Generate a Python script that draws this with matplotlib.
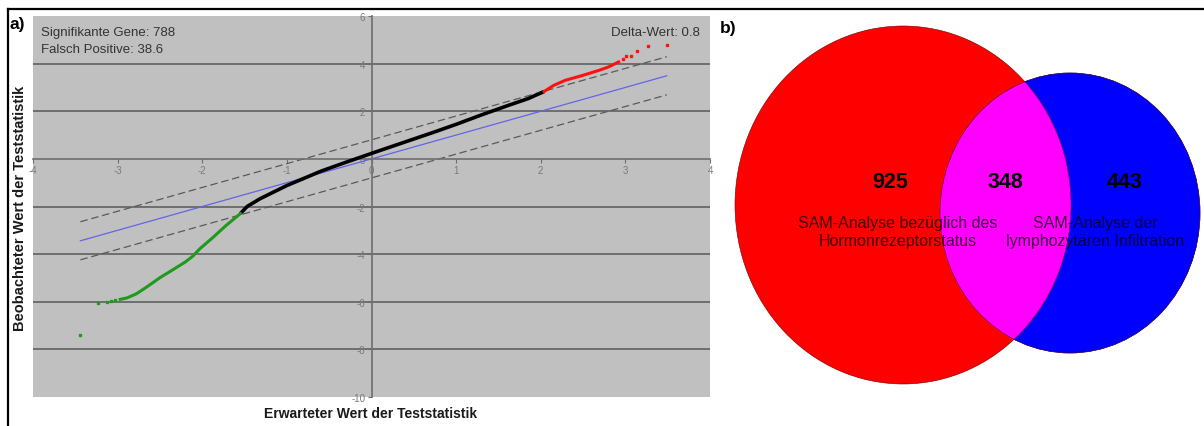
import matplotlib
matplotlib.use("Agg")
from matplotlib import pyplot as plt
from matplotlib.patches import Ellipse

plt.rcParams["font.family"] = ["Liberation Sans", "DejaVu Sans"]
plt.rcParams["axes.unicode_minus"] = False

W, H = 1204, 427

# SAM plot: observed vs expected test statistic
black_x = [-1.55, -1.47, -1.32, -1.15, -1.0, -0.8, -0.6, -0.3, 0.0, 0.33, 0.72, 1.0, 1.31, 1.62, 1.85, 2.04]
black_y = [-2.3, -2.0, -1.68, -1.38, -1.12, -0.82, -0.52, -0.14, 0.23, 0.63, 1.1, 1.45, 1.86, 2.25, 2.53, 2.83]
red_x = [2.04, 2.15, 2.29, 2.49, 2.69, 2.8, 2.92]
red_y = [2.83, 3.08, 3.3, 3.5, 3.72, 3.86, 4.07]
red_dots_x = [2.97, 3.01, 3.07, 3.14, 3.27, 3.49]
red_dots_y = [4.2, 4.33, 4.33, 4.52, 4.74, 4.77]
green_x = [-1.55, -1.72, -1.87, -2.03, -2.11, -2.2, -2.34, -2.5, -2.66, -2.78, -2.89, -2.97]
green_y = [-2.3, -2.8, -3.29, -3.78, -4.08, -4.33, -4.64, -4.99, -5.39, -5.67, -5.84, -5.9]
green_dots_x = [-3.03, -3.08, -3.13, -3.23, -3.44]
green_dots_y = [-5.94, -5.98, -6.0, -6.05, -7.38]
ref_x = [-3.44, 3.49]
delta = 0.8
n_sig = 788
false_pos = 38.6
x_ticks = [-4, -3, -2, -1, 0, 1, 2, 3, 4]
y_ticks = [-10, -8, -6, -4, -2, 0, 2, 4, 6]

# Venn counts
venn_counts = [925, 348, 443]
venn_labels = ["SAM-Analyse bezüglich des\nHormonrezeptorstatus",
               "SAM-Analyse der\nlymphozytären Infiltration"]


def fx(x):
    return x / W


def fy(y):
    return 1 - y / H


fig = plt.figure(figsize=(W / 100, H / 100), dpi=100)

# overlay in pixel units for the venn panel and frame
ov = fig.add_axes([0, 0, 1, 1])
ov.set_xlim(0, W)
ov.set_ylim(H, 0)
ov.axis("off")

ov.plot([8, W], [10, 10], color="black", lw=1.6, clip_on=False, solid_capstyle="projecting")
ov.plot([8, 8], [10, H], color="black", lw=1.6, clip_on=False, solid_capstyle="projecting")

red = Ellipse((903, 206), 336, 358, facecolor="#ff0000", edgecolor="#6a0000", lw=0.4)
blue = Ellipse((1070, 214), 260, 280, facecolor="#0000ff", edgecolor="#00006a", lw=0.4)
ov.add_patch(blue)
ov.add_patch(red)
mag = Ellipse((903, 206), 336, 358, facecolor="#ff00ff", edgecolor="#6a006a", lw=0.4)
ov.add_patch(mag)
mag.set_clip_path(blue)
ov.add_patch(Ellipse((1070, 214), 260, 280, facecolor="none", edgecolor="#4a004a", lw=0.4))

for xpos, c in zip([890, 1005, 1125], venn_counts):
    ov.text(xpos, 183, str(c), fontsize=15.5, fontweight="bold", ha="center", va="center", color="black")
ov.text(898, 233, venn_labels[0], fontsize=11.5, ha="center", va="center",
        color="black", alpha=0.75, linespacing=1.25)
ov.text(1095, 233, venn_labels[1], fontsize=11.5, ha="center", va="center",
        color="black", alpha=0.75, linespacing=1.25)

fig.text(fx(10), fy(25), "a)", fontsize=12.5, fontweight="bold", va="center")
fig.text(fx(720), fy(28), "b)", fontsize=12.5, fontweight="bold", va="center")

# SAM plot axes
ax = fig.add_axes([fx(33), fy(398), (710 - 33) / W, (398 - 17) / H])
ax.set_facecolor("#c0c0c0")
ax.set_xlim(-4, 4)
ax.set_ylim(-10, 6)

for lv in y_ticks[1:-1]:
    if lv != 0:
        ax.axhline(lv, color="#6e6e6e", lw=1.4, zorder=1)

for s in ["top", "right"]:
    ax.spines[s].set_visible(False)
ax.spines["left"].set_position(("data", 0))
ax.spines["bottom"].set_position(("data", 0))
for s in ["left", "bottom"]:
    ax.spines[s].set_color("#6e6e6e")
    ax.spines[s].set_linewidth(1.2)
ax.set_xticks(x_ticks)
ax.set_yticks(y_ticks)
ax.tick_params(axis="both", length=3, width=0.8, color="#6e6e6e",
               labelsize=7, labelcolor="#7a7a7a", pad=1.5)

ax.plot(ref_x, ref_x, color="#6464e6", lw=0.9, zorder=2)
ax.plot(ref_x, [v + delta for v in ref_x], color="#5a5a5a", lw=0.9,
        dashes=(6, 3), zorder=2)
ax.plot(ref_x, [v - delta for v in ref_x], color="#5a5a5a", lw=0.9,
        dashes=(6, 3), zorder=2)

ax.plot(black_x, black_y, color="black", lw=2.6, zorder=3, solid_capstyle="butt")
ax.plot(green_x, green_y, color="#1f9a1f", lw=2.2, zorder=3)
ax.plot(green_dots_x, green_dots_y, "s", color="#1f9a1f", ms=1.8, zorder=3)
ax.plot(red_x, red_y, color="#ff1010", lw=2.2, zorder=3)
ax.plot(red_dots_x, red_dots_y, "s", color="#ff1010", ms=1.8, zorder=3)

ax.text(0.012, 0.958, f"Signifikante Gene: {n_sig}", transform=ax.transAxes,
        fontsize=9.5, color="#333333", va="center")
ax.text(0.012, 0.913, f"Falsch Positive: {false_pos}", transform=ax.transAxes,
        fontsize=9.5, color="#333333", va="center")
ax.text(0.985, 0.958, f"Delta-Wert: {delta}", transform=ax.transAxes,
        fontsize=9.5, color="#333333", va="center", ha="right")

fig.text(fx(371), fy(414), "Erwarteter Wert der Teststatistik", fontsize=10,
         fontweight="bold", ha="center", va="center", color="#1a1a1a")
fig.text(fx(20), fy(208), "Beobachteter Wert der Teststatistik", fontsize=10.5,
         fontweight="bold", ha="center", va="center", rotation=90, color="#1a1a1a")

fig.savefig("out.png", dpi=100)
